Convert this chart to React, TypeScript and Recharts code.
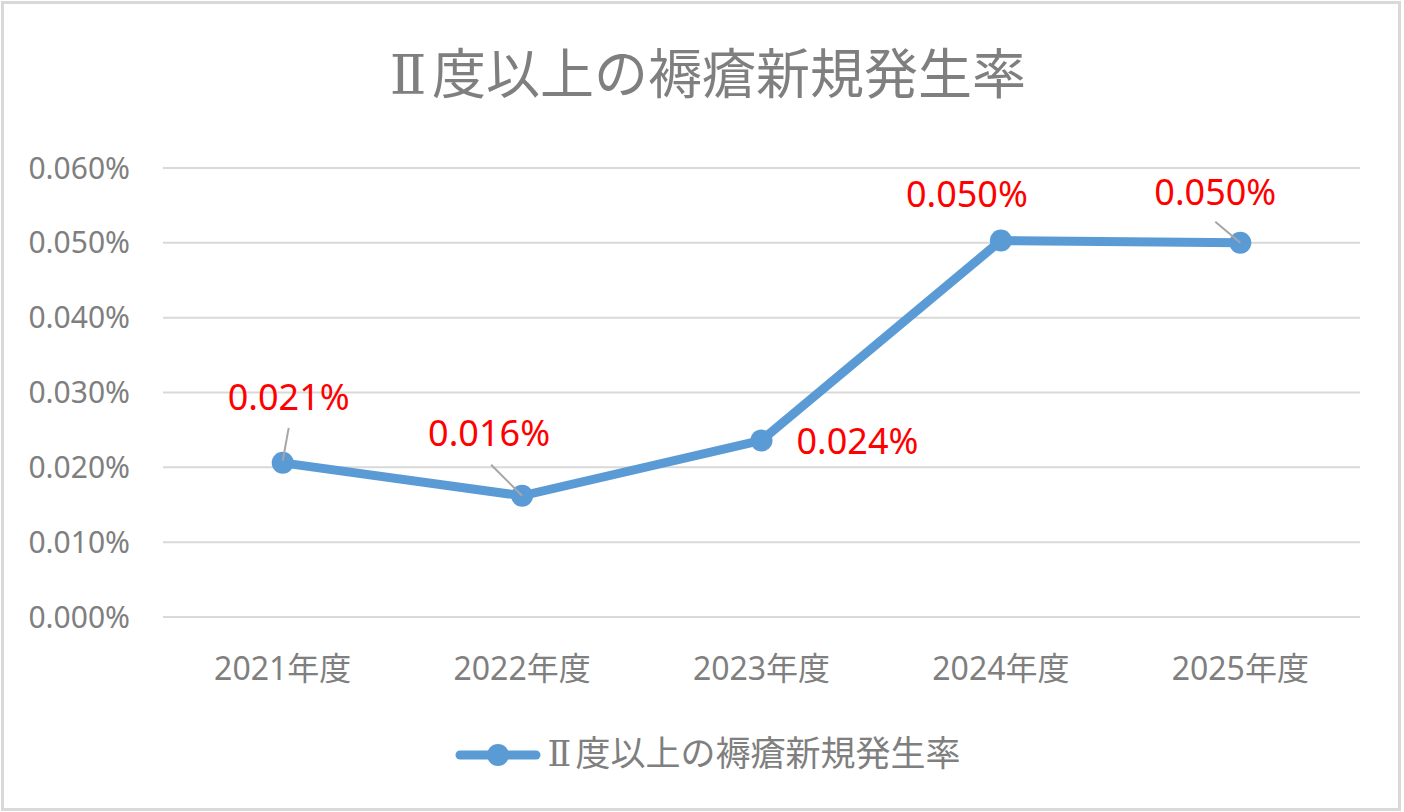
import React from "react";
import {
  LineChart,
  Line,
  XAxis,
  YAxis,
  CartesianGrid,
  Legend,
  LabelList,
} from "recharts";

const YEARS = ["2021年度", "2022年度", "2023年度", "2024年度", "2025年度"];
// percent values (0.0206 means 0.0206%)
const RATES = [0.0206, 0.0162, 0.0236, 0.0503, 0.05];
const Y_TICKS = [0, 0.01, 0.02, 0.03, 0.04, 0.05, 0.06];
const NUMERAL = "Ⅱ";
const SERIES_REST = "度以上の褥瘡新規発生率";
const SERIES_NAME = NUMERAL + SERIES_REST;

const data = YEARS.map((year, i) => ({ year, rate: RATES[i] }));

const BLUE = "#5b9bd5";
const GRAY = "#7f7f7f";
const FONT = "'Noto Sans', 'Noto Sans CJK JP', sans-serif";
const CJK_FONT = "'Noto Sans CJK JP', 'Noto Sans', sans-serif";
const NUMERAL_FONT = "'DejaVu Serif', 'Noto Sans CJK JP', serif";

// where each data label sits relative to its point, plus optional leader line
const LABEL_POS: { dx: number; dy: number; lead?: number[] }[] = [
  { dx: 6, dy: -66, lead: [6, -35, 0, -2] },
  { dx: -33, dy: -63, lead: [-31, -31, 0, 0] },
  { dx: 96, dy: 0 },
  { dx: -34, dy: -47 },
  { dx: -25, dy: -51, lead: [-25, -21, 0, 0] },
];

function RateLabel(props: any) {
  const { x, y, value, index } = props;
  const pos = LABEL_POS[index] ?? { dx: 0, dy: -40 };
  return (
    <g>
      {pos.lead && (
        <line
          x1={x + pos.lead[0]}
          y1={y + pos.lead[1]}
          x2={x + pos.lead[2]}
          y2={y + pos.lead[3]}
          stroke="#a6a6a6"
          strokeWidth={2}
        />
      )}
      <text
        x={x + pos.dx}
        y={y + pos.dy}
        textAnchor="middle"
        dominantBaseline="central"
        fill="#ff0000"
        fontSize={36}
        fontFamily={FONT}
      >
        {Number(value).toFixed(3)}%
      </text>
    </g>
  );
}

function SeriesName({ size, numeralWidth }: { size: number; numeralWidth: number }) {
  return (
    <span style={{ fontSize: size, color: GRAY, fontFamily: CJK_FONT }}>
      <span
        style={{
          display: "inline-block",
          width: numeralWidth,
          textAlign: "center",
          fontFamily: NUMERAL_FONT,
        }}
      >
        {NUMERAL}
      </span>
      {SERIES_REST}
    </span>
  );
}

function LegendContent() {
  return (
    <div
      style={{
        display: "flex",
        justifyContent: "center",
        alignItems: "center",
        height: 60,
        paddingLeft: 12,
      }}
    >
      <svg width={86} height={30}>
        <line
          x1={5}
          y1={15}
          x2={81}
          y2={15}
          stroke={BLUE}
          strokeWidth={9}
          strokeLinecap="round"
        />
        <circle cx={43} cy={15} r={11} fill={BLUE} />
      </svg>
      <div style={{ marginLeft: 2, lineHeight: "40px" }}>
        <SeriesName size={35} numeralWidth={32} />
      </div>
    </div>
  );
}

export default function App() {
  return (
    <div
      style={{
        position: "absolute",
        left: 0,
        top: 0,
        width: 1404,
        height: 812,
        background: "#fff",
        fontFamily: FONT,
      }}
    >
      <div
        style={{
          position: "absolute",
          top: 42,
          left: 384,
          whiteSpace: "nowrap",
          lineHeight: "58px",
        }}
      >
        <SeriesName size={54} numeralWidth={48} />
      </div>
      <LineChart
        width={1404}
        height={812}
        data={data}
        margin={{ top: 168, right: 44, bottom: 75, left: 0 }}
      >
        <CartesianGrid vertical={false} stroke="#d9d9d9" strokeWidth={2} />
        <XAxis
          dataKey="year"
          height={60}
          padding={{ left: 119.7, right: 119.7 }}
          axisLine={false}
          tickLine={false}
          tickMargin={34}
          tick={{ fontSize: 32, fill: GRAY, fontFamily: FONT }}
        />
        <YAxis
          width={163}
          domain={[0, 0.06]}
          ticks={Y_TICKS}
          axisLine={false}
          tickLine={false}
          tickMargin={27}
          tick={{ fontSize: 30, fill: GRAY, fontFamily: FONT }}
          tickFormatter={(v: number) => `${v.toFixed(3)}%`}
        />
        <Legend
          verticalAlign="bottom"
          content={<LegendContent />}
          wrapperStyle={{ left: 0, width: 1404, bottom: 27 }}
        />
        <Line
          type="linear"
          dataKey="rate"
          name={SERIES_NAME}
          stroke={BLUE}
          strokeWidth={9}
          dot={{ r: 11, fill: BLUE, stroke: BLUE, strokeWidth: 0 }}
          activeDot={false}
          isAnimationActive={false}
        >
          <LabelList dataKey="rate" content={<RateLabel />} />
        </Line>
      </LineChart>
      <div
        style={{
          position: "absolute",
          left: 1,
          top: 1,
          width: 1400,
          height: 810,
          boxSizing: "border-box",
          border: "3px solid #d9d9d9",
          pointerEvents: "none",
        }}
      />
    </div>
  );
}
